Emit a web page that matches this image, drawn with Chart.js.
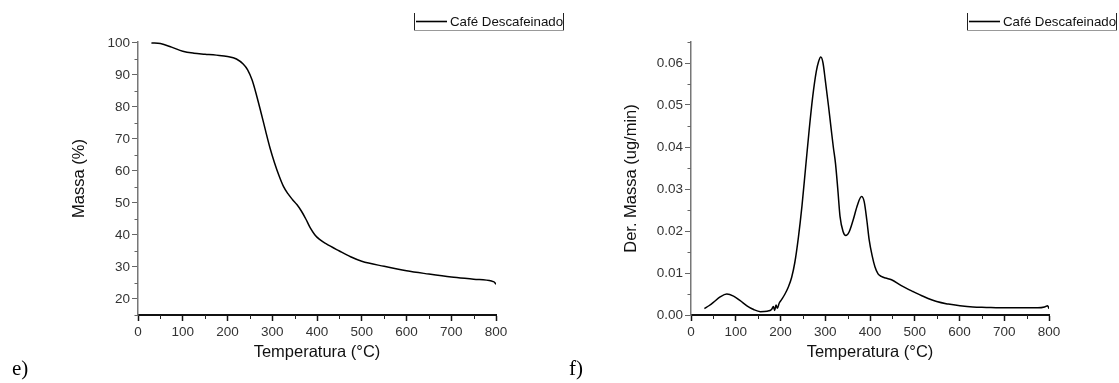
<!DOCTYPE html>
<html>
<head>
<meta charset="utf-8">
<script src="https://cdn.jsdelivr.net/npm/chart.js@4.4.1/dist/chart.umd.min.js"></script>
<style>
  html, body { margin: 0; padding: 0; background: #fff; }
  body { width: 1119px; height: 383px; position: relative; overflow: hidden; }
  .panel { position: absolute; top: 0; height: 383px; }
  #wrapE { left: 0; width: 570px; }
  #wrapF { left: 570px; width: 549px; }
  .tag { position: absolute; font-family: 'Liberation Serif', 'Times New Roman', serif; font-size: 21px; line-height: 21px; color: #000; }
</style>
</head>
<body>
<div class="panel" id="wrapE"><canvas id="chartE"></canvas></div>
<div class="panel" id="wrapF"><canvas id="chartF"></canvas></div>
<div class="tag" style="left:12px; top:358px">e)</div>
<div class="tag" style="left:569px; top:358px">f)</div>
<script>
const FONT = "'Liberation Sans', Arial, sans-serif";
const seriesName = 'Café Descafeinado';

// e) TGA curve
const tgaTemp = [30, 50, 75, 100, 125, 150, 175, 200, 220, 235, 245, 255, 265, 275, 285, 295, 305, 315, 325, 335, 345, 355, 365, 375, 385, 395, 405, 420, 450, 475, 500, 550, 600, 650, 700, 750, 790, 796, 800];
const tgaMass = [100, 99.8, 98.7, 97.4, 96.8, 96.5, 96.2, 95.8, 95, 93.4, 91.6, 88.4, 83.6, 78.2, 72.6, 67.2, 62.6, 58.6, 55.2, 52.9, 51.1, 49.5, 47.5, 45, 42.2, 40.1, 38.7, 37.3, 35, 33.2, 31.8, 30.2, 28.8, 27.8, 26.9, 26.2, 25.6, 25.3, 24.6];

// f) DTG curve
const dtgTemp = [30, 40, 50, 65, 80, 95, 110, 125, 140, 155, 170, 180, 184, 187, 190, 193, 197, 202, 210, 218, 225, 232, 240, 248, 256, 264, 272, 280, 285, 290, 295, 300, 307, 313, 318, 323, 328, 333, 340, 346, 353, 362, 372, 381, 387, 393, 398, 405, 411, 418, 425, 435, 448, 470, 496, 520, 549, 575, 601, 630, 660, 690, 720, 750, 775, 790, 797, 800];
const dtgDeriv = [0.0015, 0.0022, 0.0030, 0.0043, 0.0050, 0.0045, 0.0034, 0.0022, 0.0013, 0.0008, 0.0009, 0.0013, 0.0020, 0.0011, 0.0024, 0.0016, 0.0028, 0.0036, 0.0050, 0.0068, 0.0090, 0.0125, 0.0185, 0.0260, 0.0350, 0.0440, 0.0520, 0.0580, 0.0603, 0.0614, 0.0600, 0.0560, 0.0500, 0.0445, 0.0400, 0.0360, 0.0300, 0.0235, 0.0198, 0.0189, 0.0197, 0.0225, 0.0262, 0.0282, 0.0270, 0.0225, 0.0180, 0.0140, 0.0115, 0.0098, 0.0092, 0.0088, 0.0084, 0.0070, 0.0056, 0.0044, 0.0032, 0.0026, 0.0022, 0.0019, 0.0018, 0.0017, 0.0017, 0.0017, 0.0017, 0.0019, 0.0022, 0.0015];

// ticks
const tempTicks = [0, 100, 200, 300, 400, 500, 600, 700, 800];
const tempMinor = [50, 150, 250, 350, 450, 550, 650, 750];
const massTicks = [20, 30, 40, 50, 60, 70, 80, 90, 100];
const massMinor = [15, 25, 35, 45, 55, 65, 75, 85, 95];
const derivTicks = [0, 0.01, 0.02, 0.03, 0.04, 0.05, 0.06];
const derivMinor = [0.005, 0.015, 0.025, 0.035, 0.045, 0.055, 0.065];

// minor ticks + boxed legend, drawn on top
const extras = {
    id: 'extras',
    afterDraw(chart, args, opts) {
        const ctx = chart.ctx;
        const xs = chart.scales.x, ys = chart.scales.y;
        ctx.save();
        ctx.lineWidth = 1;
        ctx.strokeStyle = '#666';
        opts.minorY.forEach(v => {
            const py = Math.round(ys.getPixelForValue(v)) + 0.5;
            ctx.beginPath(); ctx.moveTo(xs.left - 3.5, py); ctx.lineTo(xs.left, py); ctx.stroke();
        });
        ctx.strokeStyle = '#222';
        opts.minorX.forEach(v => {
            const px = Math.round(xs.getPixelForValue(v)) + 0.5;
            ctx.beginPath(); ctx.moveTo(px, ys.bottom); ctx.lineTo(px, ys.bottom + 4); ctx.stroke();
        });

        // legend box
        const L = opts.legend;
        ctx.strokeStyle = '#999';
        ctx.beginPath(); ctx.moveTo(L.x, L.y + L.h + 0.5); ctx.lineTo(L.x + L.w, L.y + L.h + 0.5); ctx.stroke();
        ctx.strokeStyle = '#222';
        ctx.beginPath();
        ctx.moveTo(L.x + 0.5, L.y); ctx.lineTo(L.x + 0.5, L.y + L.h);
        ctx.moveTo(L.x + L.w - 0.5, L.y); ctx.lineTo(L.x + L.w - 0.5, L.y + L.h);
        ctx.stroke();
        const my = L.y + L.h / 2;
        ctx.lineWidth = 1.6;
        ctx.strokeStyle = '#000';
        ctx.beginPath(); ctx.moveTo(L.x + 2, my); ctx.lineTo(L.x + 33, my); ctx.stroke();
        ctx.fillStyle = '#111';
        ctx.font = '13.3px ' + FONT;
        ctx.textBaseline = 'middle';
        ctx.fillText(seriesName, L.x + 36, my + 0.5);
        ctx.restore();
    }
};

function makeChart(id, xs, ys, p) {
    const points = xs.map((t, i) => ({ x: t, y: ys[i] }));
    return new Chart(document.getElementById(id), {
        type: 'line',
        data: {
            datasets: [{
                label: seriesName,
                data: points,
                borderColor: '#000',
                borderWidth: 1.5,
                pointRadius: 0,
                cubicInterpolationMode: 'monotone',
                fill: false
            }]
        },
        plugins: [extras],
        options: {
            responsive: true,
            maintainAspectRatio: false,
            animation: false,
            layout: { padding: { left: 0, right: p.padRight, top: 42, bottom: 0 } },
            plugins: {
                legend: { display: false },
                tooltip: { enabled: false },
                extras: { minorX: tempMinor, minorY: p.minorY, legend: p.legend }
            },
            scales: {
                x: {
                    type: 'linear',
                    min: 0,
                    max: 800,
                    afterBuildTicks: s => { s.ticks = tempTicks.map(v => ({ value: v })); },
                    afterFit: s => { s.height = 68; },
                    border: { color: '#111', width: 2 },
                    grid: { drawOnChartArea: false, tickLength: 6, tickColor: '#111', tickWidth: 1.5 },
                    ticks: { color: '#333', padding: 3, maxRotation: 0, font: { family: FONT, size: 13.5 } },
                    title: { display: true, text: 'Temperatura (°C)', color: '#111', font: { family: FONT, size: 16.5 }, padding: { bottom: 21 } }
                },
                y: {
                    type: 'linear',
                    min: p.yMin,
                    max: p.yMax,
                    afterBuildTicks: s => { s.ticks = p.yTicks.map(v => ({ value: v })); },
                    afterFit: s => { s.width = p.yWidth; },
                    border: { color: '#777', width: 1.5 },
                    grid: { drawOnChartArea: false, tickLength: 6, tickColor: '#666', tickWidth: 1 },
                    ticks: { color: '#333', padding: 2, callback: p.fmt, font: { family: FONT, size: 13.5 } },
                    title: { display: true, text: p.yTitle, color: '#111', font: { family: FONT, size: 16.5 }, padding: { top: p.titleTop } }
                }
            }
        }
    });
}

makeChart('chartE', tgaTemp, tgaMass, {
    padRight: 74, yWidth: 138, yMin: 15, yMax: 100.3,
    yTicks: massTicks, minorY: massMinor, fmt: v => v,
    yTitle: 'Massa (%)', titleTop: 70,
    legend: { x: 414, y: 13, w: 150, h: 17 }
});

makeChart('chartF', dtgTemp, dtgDeriv, {
    padRight: 70, yWidth: 121, yMin: 0, yMax: 0.065,
    yTicks: derivTicks, minorY: derivMinor, fmt: v => v.toFixed(2),
    yTitle: 'Der. Massa (ug/min)', titleTop: 52,
    legend: { x: 397, y: 13, w: 150, h: 17 }
});
</script>
</body>
</html>
